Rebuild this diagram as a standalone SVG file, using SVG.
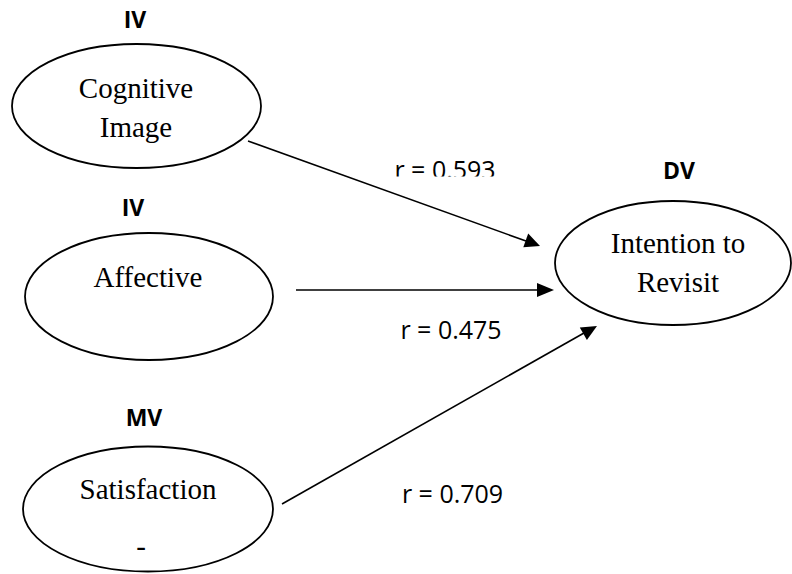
<svg xmlns="http://www.w3.org/2000/svg" width="792" height="574" viewBox="0 0 792 574">
<style>
.node ellipse{fill:#fff;stroke:#000;stroke-width:1.8}
.t{font-family:"Liberation Serif","Times New Roman",serif;font-size:29px;fill:#000;text-anchor:middle}
.h{font-family:"Open Sans","Liberation Sans",sans-serif;font-weight:bold;font-size:23px;fill:#000;text-anchor:middle}
.r{font-family:"Open Sans","Liberation Sans",sans-serif;font-size:25px;fill:#000;text-anchor:middle}
.edge{stroke:#000;stroke-width:1.6;fill:none}
.head{fill:#000}
</style>
<defs>
<clipPath id="clip593"><rect x="380" y="150" width="140" height="26.5"/></clipPath>
</defs>
<rect width="792" height="574" fill="#fff"/>
<g id="connectors">
<line class="edge" x1="248" y1="141" x2="526" y2="241"/>
<path class="head" d="M540,246 L523.3,247.3 L528.2,233.6 Z"/>
<line class="edge" x1="296" y1="290" x2="540" y2="290"/>
<path class="head" d="M554,290 L537,283 L537,297 Z"/>
<line class="edge" x1="282" y1="504" x2="584" y2="333"/>
<path class="head" d="M597,326 L586.9,340.1 L579.8,327.5 Z"/>
<text class="r" x="445" y="179" clip-path="url(#clip593)">r = 0.593</text>
<text class="r" x="451" y="339">r = 0.475</text>
<text class="r" x="452.5" y="503">r = 0.709</text>
</g>
<g id="cognitive" class="node">
<text class="h" x="135" y="28">IV</text>
<ellipse cx="136.5" cy="106" rx="124.5" ry="62"/>
<text class="t" x="136" y="98">Cognitive</text>
<text class="t" x="136" y="137">Image</text>
</g>
<g id="affective" class="node">
<text class="h" x="133" y="216">IV</text>
<ellipse cx="149" cy="296.5" rx="124" ry="63.5"/>
<text class="t" x="148" y="287">Affective</text>
</g>
<g id="satisfaction" class="node">
<text class="h" x="144" y="426">MV</text>
<ellipse cx="148" cy="509" rx="125" ry="62.5"/>
<text class="t" x="148" y="499">Satisfaction</text>
<text class="t" x="141" y="556">-</text>
</g>
<g id="intention" class="node">
<text class="h" x="679" y="179">DV</text>
<ellipse cx="673" cy="263" rx="118" ry="62"/>
<text class="t" x="678" y="253">Intention to</text>
<text class="t" x="678" y="292">Revisit</text>
</g>
</svg>
